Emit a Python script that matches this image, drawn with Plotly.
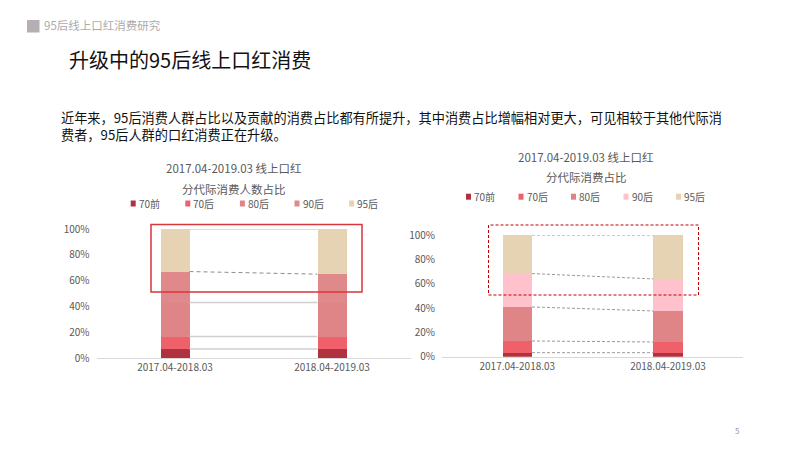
import plotly.graph_objects as go
import numpy as np

# ---------------- data ----------------
categories = ["2017.04-2018.03", "2018.04-2019.03"]
generations = ["70前", "70后", "80后", "90后", "95后"]

# left chart: share of consumers by generation (%)
people_70pre = [7.0, 7.0]
people_70s = [9.6, 9.6]
people_80s = [26.4, 26.4]
people_90s = [24.0, 22.0]
people_95s = [33.0, 35.0]

# right chart: share of spending by generation (%)
spend_70pre = [3.3, 3.3]
spend_70s = [9.6, 8.8]
spend_80s = [28.0, 25.5]
spend_90s = [27.4, 26.3]
spend_95s = [31.7, 36.1]

y_ticks = [0, 20, 40, 60, 80, 100]
y_ticktext = ["0%", "20%", "40%", "60%", "80%", "100%"]

left_title = ["2017.04-2019.03 线上口红", "分代际消费人数占比"]
right_title = ["2017.04-2019.03 线上口红", "分代际消费占比"]

# ---------------- style ----------------
FONT = "Noto Sans CJK SC, Noto Sans, sans-serif"
GRAY = "#595959"
colors_left = ["#b0323e", "#f0606b", "#df8587", "#e0898b", "#e6d3b4"]
colors_right = ["#b0323e", "#f0606b", "#df8587", "#ffc2cc", "#e6d3b4"]

W, H = 800, 450
def px(x):
    return x / W
def py(y):
    return 1 - y / H

people = [people_70pre, people_70s, people_80s, people_90s, people_95s]
spend = [spend_70pre, spend_70s, spend_80s, spend_90s, spend_95s]

fig = go.Figure()

BW_L = 0.185
BW_R = 0.195

for i, g in enumerate(generations):
    fig.add_trace(go.Bar(x=[0, 1], y=people[i], name=g, marker_color=colors_left[i],
                         marker_line_width=0, width=BW_L, xaxis="x", yaxis="y",
                         showlegend=False))
for i, g in enumerate(generations):
    fig.add_trace(go.Bar(x=[0, 1], y=spend[i], name=g, marker_color=colors_right[i],
                         marker_line_width=0, width=BW_R, xaxis="x2", yaxis="y2",
                         showlegend=False))

# connector lines between the bars at each cumulative boundary
cum_left = np.cumsum(np.array(people), axis=0)
cum_right = np.cumsum(np.array(spend), axis=0)
for i in range(len(generations)):
    dashed = (i == 3)
    fig.add_trace(go.Scatter(x=[BW_L / 2, 1 - BW_L / 2], y=list(cum_left[i]), mode="lines",
                             line=dict(color="#8c8c8c" if dashed else "#cfcfcf",
                                       width=1 if dashed else 1.5,
                                       dash="4px,3px" if dashed else "solid"),
                             xaxis="x", yaxis="y", showlegend=False, hoverinfo="skip",
                             cliponaxis=False))
    fig.add_trace(go.Scatter(x=[BW_R / 2, 1 - BW_R / 2], y=list(cum_right[i]), mode="lines",
                             line=dict(color="#9a9a9a", width=1, dash="3px,2px"),
                             xaxis="x2", yaxis="y2", showlegend=False, hoverinfo="skip",
                             cliponaxis=False))

axis_common = dict(showgrid=False, zeroline=False, fixedrange=True, automargin=False)
fig.update_layout(
    template="none",
    width=W, height=H, autosize=False,
    margin=dict(l=0, r=0, t=0, b=0, pad=0),
    paper_bgcolor="white", plot_bgcolor="rgba(0,0,0,0)",
    barmode="stack", bargap=0,
    font=dict(family=FONT, color=GRAY),
    hovermode=False,
    xaxis=dict(domain=[px(96.5), px(410.5)], range=[-0.5, 1.5], anchor="y",
               tickvals=[0, 1], ticktext=categories, showline=True, linecolor="#d9d9d9",
               linewidth=1, ticks="", tickfont=dict(size=10, color=GRAY), **axis_common),
    yaxis=dict(domain=[py(358), py(229)], range=[0, 100], anchor="x",
               tickvals=y_ticks, ticktext=y_ticktext, showline=False, ticks="",
               ticklabelstandoff=6, tickfont=dict(size=10, color=GRAY), **axis_common),
    xaxis2=dict(domain=[px(442), px(743.3)], range=[-0.5, 1.5], anchor="y2",
                tickvals=[0, 1], ticktext=categories, showline=True, linecolor="#d9d9d9",
                linewidth=1, ticks="", tickfont=dict(size=10, color=GRAY), **axis_common),
    yaxis2=dict(domain=[py(356.7), py(235)], range=[0, 100], anchor="x2",
                tickvals=y_ticks, ticktext=y_ticktext, showline=False, ticks="",
                ticklabelstandoff=6, tickfont=dict(size=10, color=GRAY), **axis_common),
)

shapes = []
annotations = []

def note(text, x, y, size, color, anchor="left"):
    annotations.append(dict(text=text, x=px(x), y=py(y), xref="paper", yref="paper",
                            xanchor=anchor, yanchor="middle", showarrow=False, align="left",
                            font=dict(size=size, color=color, family=FONT)))

# header square and header text
shapes.append(dict(type="rect", xref="paper", yref="paper", x0=px(27), x1=px(39.5),
                   y0=py(32.5), y1=py(20), fillcolor="#b5aeb5", line_width=0))
note("95后线上口红消费研究", 42, 25.5, 11.5, "#ababab")
# main title
note("升级中的95后线上口红消费", 67, 60, 20, "#111111")
# paragraph (two lines, one text block)
note("近年来，95后消费人群占比以及贡献的消费占比都有所提升，其中消费占比增幅相对更大，可见相较于其他代际消"
     "<br>费者，95后人群的口红消费正在升级。", 59, 125.5, 13.2, "#111111")

# chart titles
note(left_title[0], 234, 168, 11.5, GRAY, "center")
note(left_title[1], 234, 188.5, 11.5, GRAY, "center")
note(right_title[0], 586, 157, 11.5, GRAY, "center")
note(right_title[1], 586, 177, 11.5, GRAY, "center")

# manual legends
def add_legend(x_start, spacing, y_c, cols):
    for i, g in enumerate(generations):
        x0 = x_start + i * spacing
        shapes.append(dict(type="rect", xref="paper", yref="paper", x0=px(x0), x1=px(x0 + 5),
                           y0=py(y_c + 3), y1=py(y_c - 3), fillcolor=cols[i], line_width=0))
        note(g, x0 + 6, y_c, 10, GRAY)

add_legend(130.7, 54.6, 203.5, colors_left)
add_legend(466, 52.5, 196.7, colors_right)

# highlight boxes
shapes.append(dict(type="rect", xref="paper", yref="paper", x0=px(151), x1=px(362),
                   y0=py(292), y1=py(224.5), line=dict(color="#d9363e", width=1.5),
                   fillcolor="rgba(0,0,0,0)"))
shapes.append(dict(type="rect", xref="paper", yref="paper", x0=px(488.5), x1=px(698.5),
                   y0=py(295), y1=py(225), line=dict(color="#c00000", width=1, dash="3px,2px"),
                   fillcolor="rgba(0,0,0,0)"))

# page number
note("5", 737, 430, 8, "#9a9a9a", "center")

fig.update_layout(shapes=shapes, annotations=annotations)

fig.write_html("out.html", config={"displayModeBar": False},
               post_script="document.body.style.margin='0';")
